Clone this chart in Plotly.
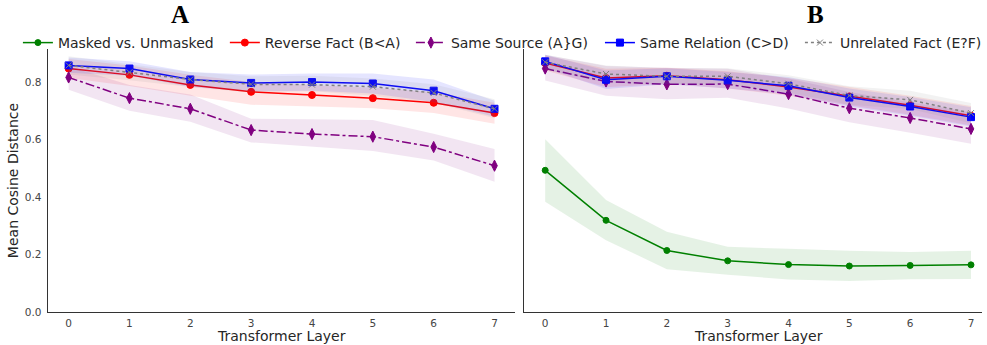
import plotly.graph_objects as go

layers = [0, 1, 2, 3, 4, 5, 6, 7]
tick_vals = [0.0, 0.2, 0.4, 0.6, 0.8]
tick_text = ["0.0", "0.2", "0.4", "0.6", "0.8"]

# Panel A
a_rev = [0.847, 0.825, 0.790, 0.766, 0.755, 0.744, 0.728, 0.692]
a_rev_hi = [0.880, 0.858, 0.825, 0.800, 0.790, 0.780, 0.765, 0.728]
a_rev_lo = [0.814, 0.786, 0.752, 0.721, 0.716, 0.709, 0.692, 0.655]
a_src = [0.816, 0.744, 0.707, 0.633, 0.619, 0.610, 0.574, 0.509]
a_src_hi = [0.855, 0.790, 0.757, 0.672, 0.671, 0.668, 0.620, 0.567]
a_src_lo = [0.773, 0.700, 0.662, 0.590, 0.574, 0.560, 0.527, 0.453]
a_rel = [0.858, 0.847, 0.809, 0.797, 0.800, 0.795, 0.770, 0.707]
a_rel_hi = [0.885, 0.872, 0.835, 0.826, 0.830, 0.830, 0.809, 0.735]
a_rel_lo = [0.832, 0.822, 0.783, 0.768, 0.770, 0.760, 0.731, 0.679]
a_unr = [0.858, 0.834, 0.809, 0.792, 0.791, 0.784, 0.762, 0.707]
a_unr_hi = [0.890, 0.862, 0.835, 0.820, 0.822, 0.812, 0.792, 0.740]
a_unr_lo = [0.826, 0.806, 0.783, 0.764, 0.768, 0.752, 0.728, 0.674]

# Panel B
b_mask = [0.493, 0.319, 0.214, 0.178, 0.165, 0.160, 0.162, 0.164]
b_mask_hi = [0.601, 0.390, 0.279, 0.227, 0.220, 0.213, 0.209, 0.213]
b_mask_lo = [0.384, 0.250, 0.149, 0.130, 0.113, 0.108, 0.114, 0.115]
b_rev = [0.866, 0.814, 0.822, 0.808, 0.783, 0.750, 0.719, 0.683]
b_rev_hi = [0.892, 0.846, 0.850, 0.838, 0.814, 0.782, 0.752, 0.717]
b_rev_lo = [0.840, 0.782, 0.794, 0.778, 0.752, 0.718, 0.686, 0.649]
b_src = [0.847, 0.802, 0.792, 0.793, 0.758, 0.709, 0.675, 0.637]
b_src_hi = [0.895, 0.856, 0.850, 0.846, 0.812, 0.765, 0.730, 0.695]
b_src_lo = [0.805, 0.752, 0.740, 0.745, 0.708, 0.660, 0.624, 0.585]
b_rel = [0.872, 0.808, 0.820, 0.806, 0.787, 0.746, 0.715, 0.678]
b_rel_hi = [0.895, 0.840, 0.848, 0.835, 0.818, 0.778, 0.748, 0.712]
b_rel_lo = [0.848, 0.776, 0.792, 0.778, 0.757, 0.715, 0.683, 0.645]
b_unr = [0.869, 0.828, 0.820, 0.820, 0.794, 0.753, 0.738, 0.692]
b_unr_hi = [0.895, 0.858, 0.848, 0.848, 0.824, 0.785, 0.770, 0.727]
b_unr_lo = [0.843, 0.798, 0.792, 0.792, 0.764, 0.721, 0.706, 0.657]

names = {
    "mask": "Masked vs. Unmasked",
    "rev": "Reverse Fact (B<A)",
    "src": "Same Source (A}G)",
    "rel": "Same Relation (C>D)",
    "unr": "Unrelated Fact (E?F)",
}
styles = {
    "mask": dict(color="green", rgba="rgba(0,128,0,0.10)", dash="solid", symbol="circle", size=6),
    "rev": dict(color="red", rgba="rgba(255,0,0,0.10)", dash="solid", symbol="circle", size=7),
    "src": dict(color="purple", rgba="rgba(128,0,128,0.10)", dash="dashdot", symbol="diamond-tall", size=8),
    "rel": dict(color="blue", rgba="rgba(0,0,255,0.10)", dash="solid", symbol="square", size=7),
    "unr": dict(color="gray", rgba="rgba(128,128,128,0.10)", dash="dot", symbol="x-thin", size=6),
}
legend_ids = {"mask": "legend", "rev": "legend2", "src": "legend3", "rel": "legend4", "unr": "legend5"}
legend_px = {"mask": 18, "rev": 226, "src": 413, "rel": 603, "unr": 804}

fig = go.Figure()


def add_series(key, mean, lo, hi, xa, ya, show):
    s = styles[key]
    fig.add_trace(go.Scatter(x=layers + layers[::-1], y=hi + lo[::-1], fill="toself",
                             fillcolor=s["rgba"], line=dict(width=0), mode="lines",
                             hoverinfo="skip", showlegend=False, xaxis=xa, yaxis=ya))
    fig.add_trace(go.Scatter(x=layers, y=mean, mode="lines+markers", name=names[key],
                             line=dict(color=s["color"], width=1.5, dash=s["dash"]),
                             marker=dict(symbol=s["symbol"], size=s["size"], color=s["color"],
                                         line=dict(color=s["color"], width=1)),
                             showlegend=show, legend=legend_ids[key], xaxis=xa, yaxis=ya))


add_series("mask", b_mask, b_mask_lo, b_mask_hi, "x2", "y2", True)
add_series("rev", a_rev, a_rev_lo, a_rev_hi, "x", "y", False)
add_series("rev", b_rev, b_rev_lo, b_rev_hi, "x2", "y2", True)
add_series("src", a_src, a_src_lo, a_src_hi, "x", "y", False)
add_series("src", b_src, b_src_lo, b_src_hi, "x2", "y2", True)
add_series("rel", a_rel, a_rel_lo, a_rel_hi, "x", "y", False)
add_series("rel", b_rel, b_rel_lo, b_rel_hi, "x2", "y2", True)
add_series("unr", a_unr, a_unr_lo, a_unr_hi, "x", "y", False)
add_series("unr", b_unr, b_unr_lo, b_unr_hi, "x2", "y2", True)

W, H = 987, 345
ydom = [(H - 312) / H, (H - 49) / H]
axcol = "#333333"
tickfont = dict(family="DejaVu Sans", size=10.5, color="#444444")
titlefont = dict(family="DejaVu Sans", size=14, color="#262626")

common_x = dict(tickvals=layers, ticktext=[str(v) for v in layers], showgrid=False, zeroline=False,
                showline=True, linecolor=axcol, linewidth=1.3, ticks="", tickfont=tickfont,
                ticklabelstandoff=1, automargin=False)

legend_font = dict(family="DejaVu Sans", size=14, color="#262626")
legends = {}
for key, lid in legend_ids.items():
    legends[lid] = dict(orientation="h", x=legend_px[key] / W, y=1 - 43 / H, xanchor="left",
                        yanchor="middle", font=legend_font, bgcolor="rgba(0,0,0,0)",
                        itemwidth=30, borderwidth=0)

panel_font = dict(family="Liberation Serif", size=25, color="black")
fig.update_layout(
    width=W, height=H,
    margin=dict(l=0, r=0, t=0, b=0),
    paper_bgcolor="white", plot_bgcolor="white",
    template="none",
    xaxis=dict(domain=[48 / W, 518 / W], range=[-0.343, 7.343], anchor="y", **common_x),
    xaxis2=dict(domain=[527 / W, 1.0], range=[-0.343, 7.181], anchor="y2", **common_x),
    yaxis=dict(domain=ydom, range=[0, 0.915], tickvals=tick_vals, ticktext=tick_text,
               showgrid=False, zeroline=False, showline=True, linecolor=axcol, linewidth=1.3,
               ticks="", tickfont=tickfont, ticklabelstandoff=3, automargin=False,
               title=dict(text="Mean Cosine Distance", font=titlefont, standoff=2)),
    yaxis2=dict(domain=ydom, range=[0, 0.915], anchor="x2", showticklabels=False,
                showgrid=False, zeroline=False, showline=True, linecolor=axcol, linewidth=1.3,
                ticks="", automargin=False),
    annotations=[
        dict(text="<b>A</b>", x=181 / W, y=1 - 14 / H, xref="paper", yref="paper",
             xanchor="center", yanchor="middle", showarrow=False, font=panel_font),
        dict(text="<b>B</b>", x=820 / W, y=1 - 14 / H, xref="paper", yref="paper",
             xanchor="center", yanchor="middle", showarrow=False, font=panel_font),
        dict(text="Transformer Layer", x=283 / W, y=0, xref="paper", yref="paper",
             xanchor="center", yanchor="bottom", showarrow=False, font=titlefont, borderpad=0),
        dict(text="Transformer Layer", x=762 / W, y=0, xref="paper", yref="paper",
             xanchor="center", yanchor="bottom", showarrow=False, font=titlefont, borderpad=0),
    ],
    **legends,
)

fig.write_html("out.html", config={"displayModeBar": False},
               post_script="document.body.style.margin='0';")
